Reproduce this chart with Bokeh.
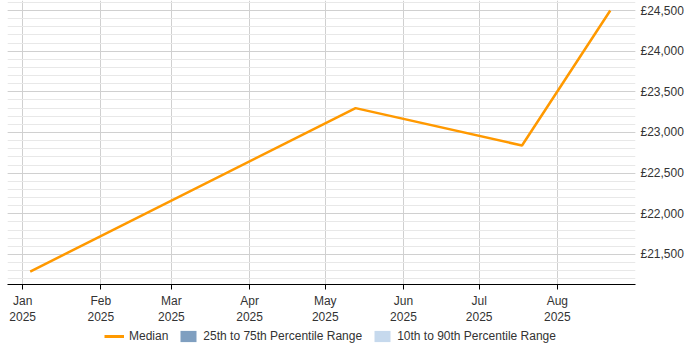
from datetime import datetime, timezone
from bokeh.plotting import figure
from bokeh.layouts import column
from bokeh.models import (Range1d, FixedTicker, SingleIntervalTicker, CustomJSTickFormatter,
                          Legend, LegendItem, ColumnDataSource)
from bokeh.embed import file_html
from bokeh.resources import INLINE

# ---- data ----
dates = ["2025-01-04", "2025-05-13", "2025-07-18", "2025-08-22"]
median = [21290, 23300, 22840, 24500]
p25 = [21290, 23300, 22840, 24500]
p75 = [21290, 23300, 22840, 24500]
p10 = [21290, 23300, 22840, 24500]
p90 = [21290, 23300, 22840, 24500]
tick_months = ["2025-01-01", "2025-02-01", "2025-03-01", "2025-04-01",
               "2025-05-01", "2025-06-01", "2025-07-01", "2025-08-01"]
tick_labels = ["Jan\n2025", "Feb\n2025", "Mar\n2025", "Apr\n2025",
               "May\n2025", "Jun\n2025", "Jul\n2025", "Aug\n2025"]
x_start, x_end = "2024-12-26", "2025-09-01"
y_start, y_end = 21131, 24623


def ms(s):
    return datetime.strptime(s, "%Y-%m-%d").replace(tzinfo=timezone.utc).timestamp() * 1000


src = ColumnDataSource(dict(x=[ms(d) for d in dates], med=median,
                            p25=p25, p75=p75, p10=p10, p90=p90))

FONT = "Liberation Sans"
ORANGE, MID, LIGHT = "#ff9900", "#7f9fc0", "#c6d9ed"

p = figure(frame_width=628, frame_height=284, output_backend="svg", toolbar_location=None,
           x_axis_type="datetime", y_axis_location="right",
           x_range=Range1d(ms(x_start), ms(x_end)), y_range=Range1d(y_start, y_end),
           min_border_left=7, min_border_top=0, min_border_right=0, min_border_bottom=0)
p.outline_line_color = None
p.background_fill_color = "white"
p.border_fill_color = "white"

p.varea(x="x", y1="p10", y2="p90", source=src, fill_color=LIGHT)
p.varea(x="x", y1="p25", y2="p75", source=src, fill_color=MID)
p.line(x="x", y="med", source=src, line_color=ORANGE, line_width=2.5)

ticks = [ms(t) for t in tick_months]
xa = p.xaxis[0]
xa.ticker = FixedTicker(ticks=ticks, minor_ticks=[])
xa.major_label_overrides = {t: l for t, l in zip(ticks, tick_labels)}
xa.axis_line_color = "black"
xa.axis_line_width = 1
xa.major_tick_line_color = "black"
xa.major_tick_in = 0
xa.major_tick_out = 5
xa.minor_tick_line_color = None
xa.minor_tick_in = 0
xa.minor_tick_out = 0
xa.major_label_text_font = FONT
xa.major_label_text_font_size = "12px"
xa.major_label_text_color = "#333333"
xa.major_label_standoff = 4

ya = p.yaxis[0]
ya.ticker = SingleIntervalTicker(interval=500, num_minor_ticks=5)
ya.formatter = CustomJSTickFormatter(code="return '£' + Math.round(tick).toLocaleString('en-GB');")
ya.axis_line_color = None
ya.major_tick_line_color = None
ya.minor_tick_line_color = None
ya.major_tick_in = 0
ya.major_tick_out = 0
ya.minor_tick_in = 0
ya.minor_tick_out = 0
ya.major_label_text_font = FONT
ya.major_label_text_font_size = "12px"
ya.major_label_text_color = "#333333"
ya.major_label_standoff = 5

p.xgrid.ticker = FixedTicker(ticks=ticks)
p.xgrid.grid_line_color = "#d0d0d0"
p.ygrid.grid_line_color = "#d0d0d0"
p.ygrid.minor_grid_line_color = "#e8e8e8"

# legend strip: same series drawn in a strip whose range lies away from the data
leg = figure(width=684, height=18, output_backend="svg", toolbar_location=None,
             x_axis_location=None, y_axis_location=None,
             x_range=Range1d(ms(x_start), ms(x_end)), y_range=Range1d(0, 1),
             min_border_left=0, min_border_right=0, min_border_top=0, min_border_bottom=0)
leg.outline_line_color = None
leg.xgrid.visible = False
leg.ygrid.visible = False
l10 = leg.varea(x="x", y1="p10", y2="p90", source=src, fill_color=LIGHT)
l25 = leg.varea(x="x", y1="p25", y2="p75", source=src, fill_color=MID)
lmed = leg.line(x="x", y="med", source=src, line_color=ORANGE, line_width=3)

legend = Legend(items=[LegendItem(label="Median", renderers=[lmed]),
                       LegendItem(label="25th to 75th Percentile Range", renderers=[l25]),
                       LegendItem(label="10th to 90th Percentile Range", renderers=[l10])],
                orientation="horizontal", location=(97, 2),
                label_text_font=FONT, label_text_font_size="12px", label_text_color="#333333",
                glyph_width=20, glyph_height=14, label_height=14, label_standoff=5, spacing=10,
                padding=0, margin=0, border_line_color=None, background_fill_alpha=0)
leg.add_layout(legend, "center")

layout = column(p, leg, spacing=0)
open("out.html", "w").write(file_html(layout, INLINE))
